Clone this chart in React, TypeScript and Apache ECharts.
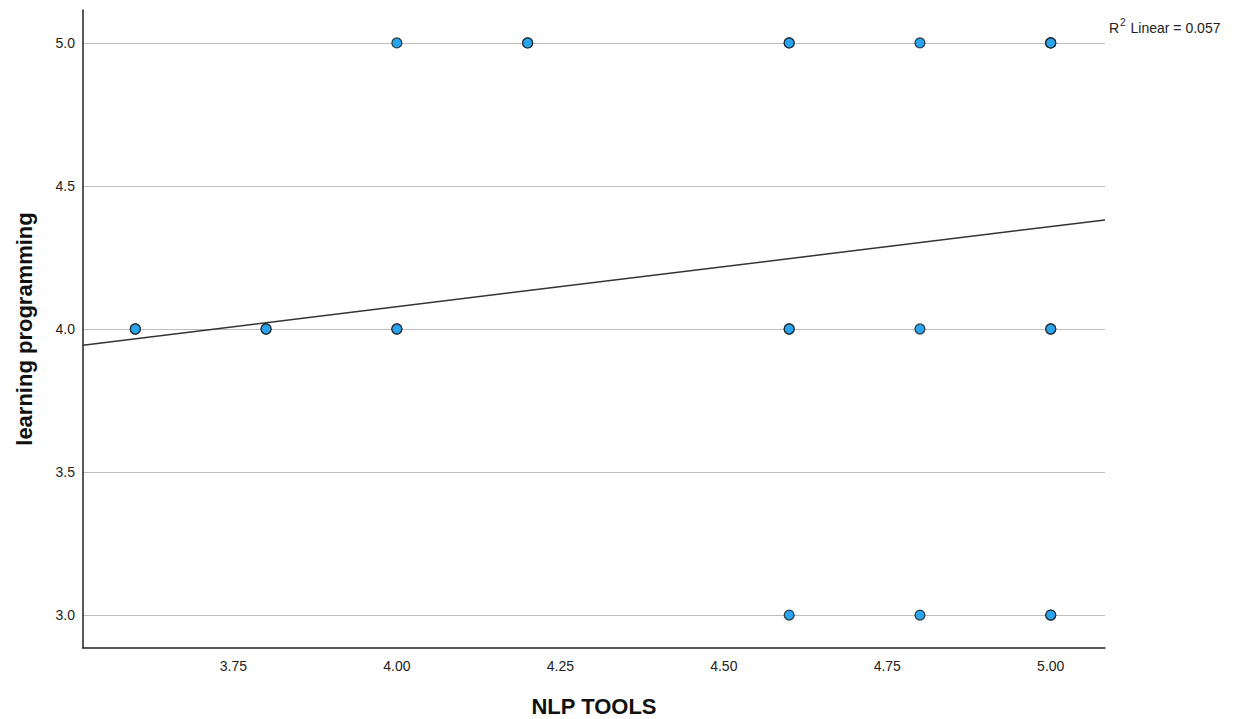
import React, { useEffect, useRef } from "react";
import * as echarts from "echarts";

// Scatter observations (duplicates = overlapping respondents)
const nlpTools = [
  4.0, 4.2, 4.2, 4.6, 4.6, 4.8, 5.0, 5.0, 5.0,
  3.6, 3.6, 3.8, 3.8, 4.0, 4.0, 4.6, 4.6, 4.8, 5.0, 5.0,
  4.6, 4.8, 5.0, 5.0,
];
const learningProgramming = [
  5, 5, 5, 5, 5, 5, 5, 5, 5,
  4, 4, 4, 4, 4, 4, 4, 4, 4, 4, 4,
  3, 3, 3, 3,
];

// Axis ranges and tick labels
const xRange = [3.52, 5.083];
const yRange = [2.885, 5.115];
const xTicks = [3.75, 4.0, 4.25, 4.5, 4.75, 5.0];
const yTicks = [3.0, 3.5, 4.0, 4.5, 5.0];

// Fit line (linear)
const fitIntercept = 2.958;
const fitSlope = 0.28;
const rSquared = "0.057";

const xTitle = "NLP TOOLS";
const yTitle = "learning programming";

export default function App() {
  const ref = useRef<HTMLDivElement>(null);

  useEffect(() => {
    document.body.style.margin = "0";
    const chart = echarts.init(ref.current!, null, { renderer: "svg" });
    const points = nlpTools.map((x, i) => [x, learningProgramming[i]]);
    const fitLine = xRange.map((x) => [x, fitIntercept + fitSlope * x]);
    const font = "Arial, 'Liberation Sans', sans-serif";

    chart.setOption({
      animation: false,
      backgroundColor: "#ffffff",
      grid: { left: 83, right: 133, top: 10, bottom: 71, containLabel: false, outerBoundsMode: "none" },
      title: {
        left: 1104,
        top: 12,
        text: "{r|R}{s|2}{r| Linear = " + rSquared + "}",
        textStyle: {
          fontWeight: "normal",
          rich: {
            r: { fontSize: 14, fontWeight: "normal", fontFamily: font, color: "#222", lineHeight: 18, verticalAlign: "bottom" },
            s: { fontSize: 10, fontWeight: "normal", fontFamily: font, color: "#222", lineHeight: 18, verticalAlign: "top", padding: [0, 1, 8, 1] },
          },
        },
      },
      xAxis: {
        type: "value",
        min: xRange[0],
        max: xRange[1],
        name: xTitle,
        nameLocation: "middle",
        nameGap: 47,
        nameTextStyle: { fontSize: 22, fontWeight: "bold", fontFamily: font, color: "#111" },
        axisLine: { show: true, onZero: false, lineStyle: { color: "#222", width: 1.5 } },
        axisTick: { show: false, customValues: xTicks },
        axisLabel: {
          customValues: xTicks,
          formatter: (v: number) => v.toFixed(2),
          fontSize: 14,
          fontFamily: font,
          color: "#222",
          margin: 11,
        },
        splitLine: { show: false },
      },
      yAxis: {
        type: "value",
        min: yRange[0],
        max: yRange[1],
        name: yTitle,
        nameLocation: "middle",
        nameGap: 48,
        nameTextStyle: { fontSize: 22, fontWeight: "bold", fontFamily: font, color: "#111" },
        axisLine: { show: true, onZero: false, lineStyle: { color: "#222", width: 1.5 } },
        axisTick: { show: false, customValues: yTicks },
        axisLabel: {
          customValues: yTicks,
          formatter: (v: number) => v.toFixed(1),
          fontSize: 14,
          fontFamily: font,
          color: "#222",
          margin: 8,
        },
        splitLine: { show: true, lineStyle: { color: "#bdbdbd", width: 1 } },
      },
      series: [
        {
          type: "line",
          data: fitLine,
          symbol: "none",
          lineStyle: { color: "#333", width: 1.5 },
          z: 2,
        },
        {
          type: "scatter",
          data: points,
          symbol: "circle",
          symbolSize: 10,
          itemStyle: { color: "#2ba4ee", borderColor: "rgba(20,20,20,0.75)", borderWidth: 1.3, opacity: 1 },
          z: 3,
        },
      ],
    });
    return () => chart.dispose();
  }, []);

  return <div ref={ref} style={{ width: 1238, height: 719 }} />;
}
